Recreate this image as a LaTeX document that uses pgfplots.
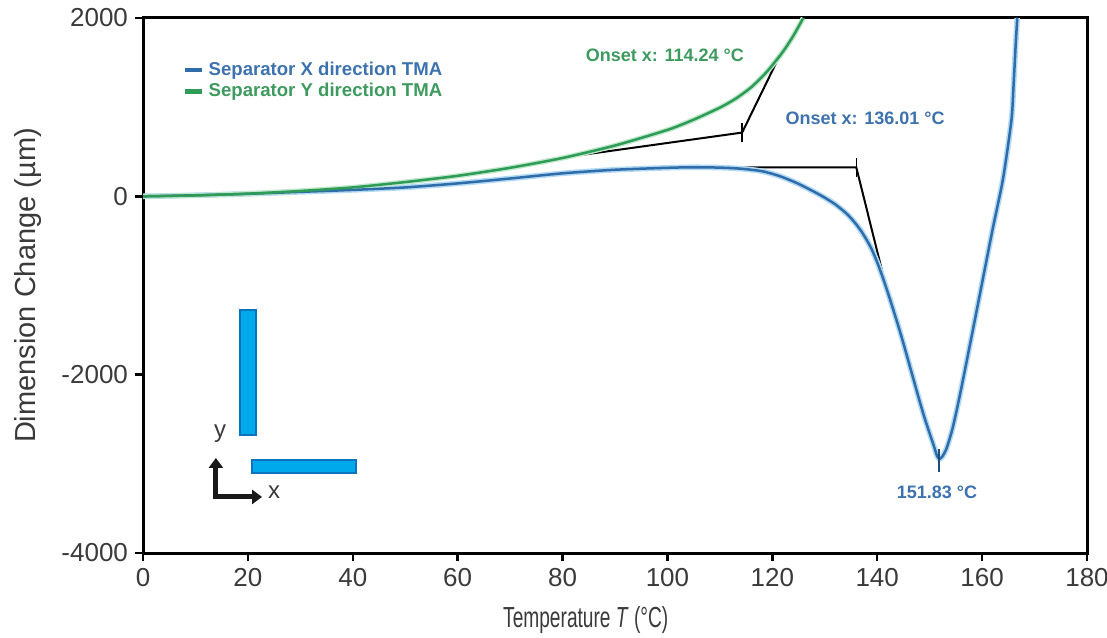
\documentclass[border=0pt]{standalone}
\usepackage{fontspec}
\setmainfont{Liberation Sans}
\newfontfamily\narrowsans{Liberation Sans}[FakeStretch=0.66]
\usepackage{pgfplots}
\usepackage{pgfplotstable}
\pgfplotsset{compat=1.18}
\usetikzlibrary{arrows.meta}

\definecolor{curveX}{HTML}{2F6DAA}
\definecolor{curveY}{HTML}{2E9C57}
\definecolor{haloX}{HTML}{B3DAF4}
\definecolor{haloY}{HTML}{BFE8CC}
\definecolor{labX}{HTML}{3D72AE}
\definecolor{labY}{HTML}{3E9A5E}
\definecolor{barfill}{HTML}{00A9EC}
\definecolor{baredge}{HTML}{0B74BD}
\definecolor{textgray}{HTML}{3A3A3A}

% Separator X direction TMA
\pgfplotstableread{
T D
0 0
10 12
20 28
30 50
40 72
50 100
60 145
70 200
80 258
90 298
100 320
105 326
110 322
114 310
118 282
121.5 225
125 140
128 50
130 -15
132 -90
134 -185
135 -245
136 -315
137 -395
138 -490
139 -600
140 -740
141 -900
142 -1075
143 -1260
144 -1450
145 -1650
146 -1860
147 -2070
148 -2280
149 -2480
150 -2660
150.8 -2800
151.4 -2910
151.83 -2945
152.4 -2920
153.2 -2830
154.2 -2640
155 -2440
156 -2160
158 -1570
160 -970
162 -370
164 200
165.6 860
166.0 1250
166.4 1700
166.7 2000
}\tableX

% Separator Y direction TMA
\pgfplotstableread{
T D
0 0
10 10
20 30
30 60
40 100
50 160
60 230
70 320
80 430
90 570
100 745
105 860
110 995
113 1095
116 1225
119 1400
122 1620
124 1800
125.9 2000
}\tableY

\begin{document}
\begin{tikzpicture}
\begin{axis}[
  scale only axis,
  width=472pt, height=267.5pt,
  xmin=0, xmax=180, ymin=-4000, ymax=2000,
  xtick={0,20,...,180},
  ytick={-4000,-2000,0,2000},
  xtick pos=left, ytick pos=left,
  tick align=outside,
  major tick length=4pt,
  axis line style={line width=1.5pt},
  every tick/.style={line width=1.2pt, black},
  /pgf/number format/assume math mode=true,
  scaled y ticks=false,
  yticklabel style={/pgf/number format/1000 sep={}},
  ticklabel style={font=\fontsize{13}{13}\selectfont, text=textgray},
  xlabel={Temperature \textit{T} (°C)},
  ylabel={Dimension Change (µm)},
  every axis x label/.style={at={(axis description cs:0.469,-0.1252)}, anchor=center, font=\narrowsans\fontsize{14.5}{14.5}\selectfont, text=textgray},
  every axis y label/.style={at={(axis description cs:-0.1218,0.5)}, rotate=90, anchor=center, font=\fontsize{14.5}{14.5}\selectfont, text=textgray},
  legend style={at={(axis cs:7.6,1560)}, anchor=north west, draw=none, fill=none,
    font=\bfseries\fontsize{9.3}{9.5}\selectfont, inner sep=0pt, row sep=-1.5pt},
  legend cell align=left,
  legend image code/.code={\draw[line width=2.2pt] (0pt,0pt) -- (8.5pt,0pt);},
]
% onset constructions, drawn first so the curves lie on top
\addplot[black, line width=1pt, forget plot] coordinates {(77,410) (114.24,715) (121.5,1590)};
\addplot[black, line width=0.8pt, forget plot] coordinates {(114.24,605) (114.24,825)};
\addplot[black, line width=1pt, forget plot] coordinates {(100,324) (136.01,324) (142,-1090)};
\addplot[black, line width=0.8pt, forget plot] coordinates {(136.01,214) (136.01,434)};

% soft halo under the curves
\addplot[haloX, line width=2.8pt, smooth, tension=0.4, forget plot] table[x=T, y=D] {\tableX};
\addplot[haloY, line width=2.6pt, smooth, tension=0.4, forget plot] table[x=T, y=D] {\tableY};

\addplot[curveX, line width=1.25pt, smooth, tension=0.4] table[x=T, y=D] {\tableX};
\addlegendentry{\textcolor{labX}{Separator X direction TMA}}
\addplot[curveY, line width=1.25pt, smooth, tension=0.4] table[x=T, y=D] {\tableY};
\addlegendentry{\textcolor{labY}{Separator Y direction TMA}}

\addplot[curveX!70!black, line width=0.8pt, forget plot] coordinates {(151.83,-2830) (151.83,-3090)};

% annotations
\node[text=labY, font=\bfseries\fontsize{9}{9}\selectfont] at (axis cs:99.5,1584) {Onset x: 114.24 °C};
\node[text=labX, font=\bfseries\fontsize{9}{9}\selectfont] at (axis cs:137.7,878) {Onset x: 136.01 °C};
\node[text=labX, font=\bfseries\fontsize{9}{9}\selectfont] at (axis cs:151.4,-3315) {151.83 °C};

% sample orientation sketch
\draw[baredge, fill=barfill, line width=1pt] (axis cs:18.5,-1275) rectangle (axis cs:21.5,-2676);
\draw[baredge, fill=barfill, line width=1pt] (axis cs:20.8,-2956) rectangle (axis cs:40.6,-3102);
\draw[line width=2.5pt, line join=miter, black!90,
  {Triangle[length=5pt,width=7pt]}-{Triangle[length=5pt,width=7pt]}]
  (axis cs:13.9,-2934) -- (axis cs:13.9,-3371) -- (axis cs:22.7,-3371);
\node[font=\fontsize{12}{12}\selectfont, text=textgray] at (axis cs:14.7,-2660) {y};
\node[font=\fontsize{12}{12}\selectfont, text=textgray] at (axis cs:25,-3315) {x};
\end{axis}
\pgfresetboundingbox
\path ([shift={(-71.5pt,-42pt)}]current axis.south west) rectangle ([shift={(10pt,9pt)}]current axis.north east);
\end{tikzpicture}
\end{document}
